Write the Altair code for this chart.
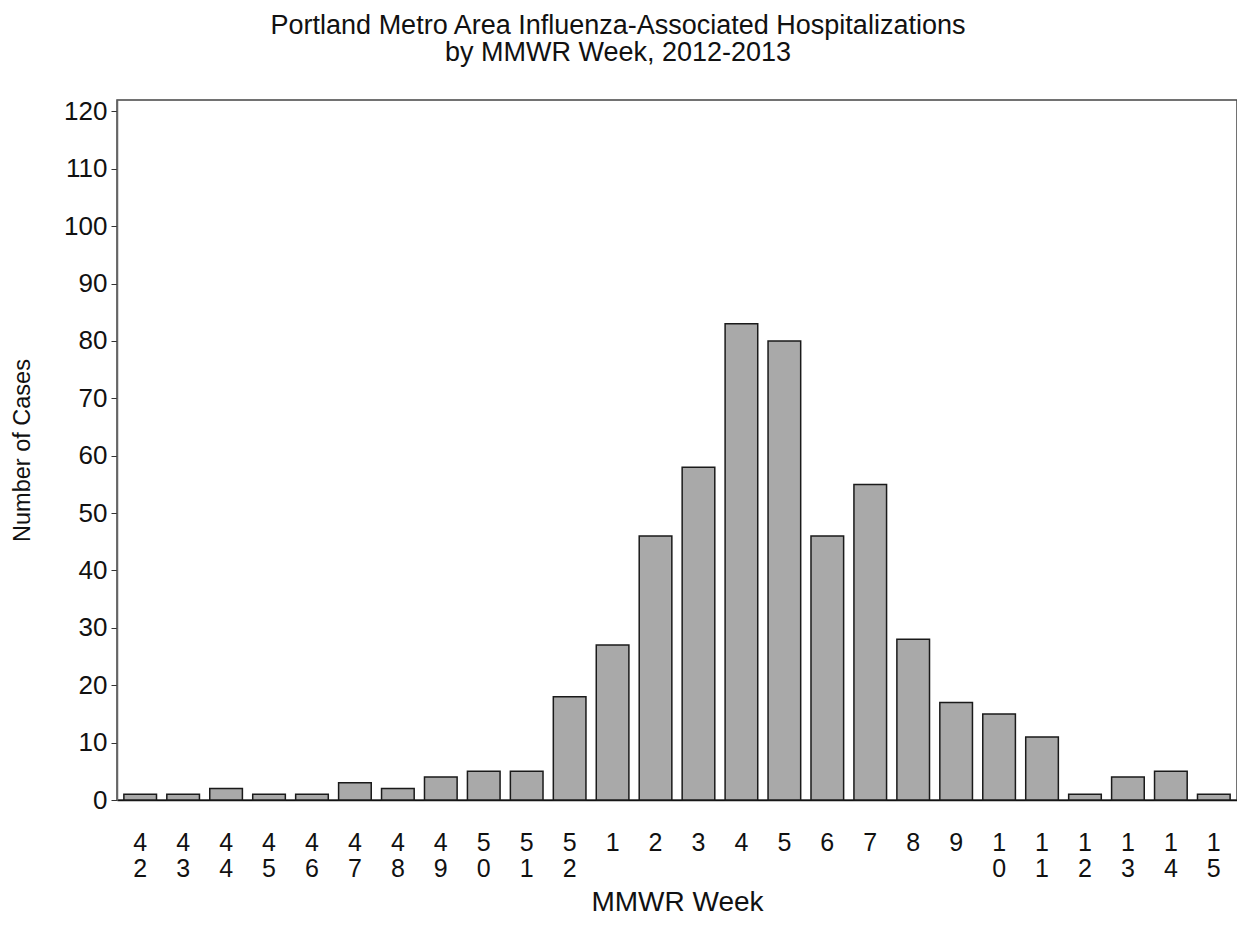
import altair as alt
import pandas as pd

weeks = ["42", "43", "44", "45", "46", "47", "48", "49", "50", "51", "52",
         "1", "2", "3", "4", "5", "6", "7", "8", "9", "10", "11", "12", "13", "14", "15"]
cases = [1, 1, 2, 1, 1, 3, 2, 4, 5, 5, 18,
         27, 46, 58, 83, 80, 46, 55, 28, 17, 15, 11, 1, 4, 5, 1]
y_ticks = list(range(0, 121, 10))

df = pd.DataFrame({"week": weeks, "cases": cases})

FONT = "Liberation Sans"

chart = alt.Chart(df).mark_bar(
    color="#a9a9a9", stroke="#1a1a1a", strokeWidth=1.5
).encode(
    x=alt.X("week:N", sort=weeks,
            scale=alt.Scale(paddingInner=0.24, paddingOuter=0.16),
            axis=alt.Axis(title="MMWR Week", labelAngle=0,
                          labelExpr="split(datum.label, '')",
                          labelFontSize=25, labelLineHeight=26,
                          labelBaseline="top", labelPadding=30,
                          ticks=False, domainColor="#111", domainWidth=1.5,
                          titleFontSize=28, titleFontWeight="normal",
                          titleY=110, titleBaseline="alphabetic",
                          labelColor="#111", titleColor="#111")),
    y=alt.Y("cases:Q", scale=alt.Scale(domain=[0, 122], nice=False),
            axis=alt.Axis(title="Number of Cases", values=y_ticks, grid=False,
                          tickSize=6, tickColor="#333", domainColor="#666",
                          domainWidth=1.5, labelFontSize=26, labelPadding=4,
                          titleFontSize=23.5, titleFontWeight="normal",
                          titleX=-95, titleY=350, titleBaseline="middle",
                          labelColor="#111", titleColor="#111"))
).properties(
    width=1120, height=700,
    title=alt.Title(
        text=["Portland Metro Area Influenza-Associated Hospitalizations",
              "by MMWR Week, 2012-2013"],
        fontSize=27, fontWeight="normal", font=FONT, color="#111",
        anchor="middle", dx=-59, offset=31, lineHeight=27
    ),
    autosize=alt.AutoSizeParams(type="none"),
    padding={"left": 109, "top": 92, "right": 0, "bottom": 116}
).configure(
    font=FONT
).configure_view(
    stroke="#444", strokeWidth=1.5
)

chart.save("out.html", embed_options={"renderer": "svg", "actions": False})
